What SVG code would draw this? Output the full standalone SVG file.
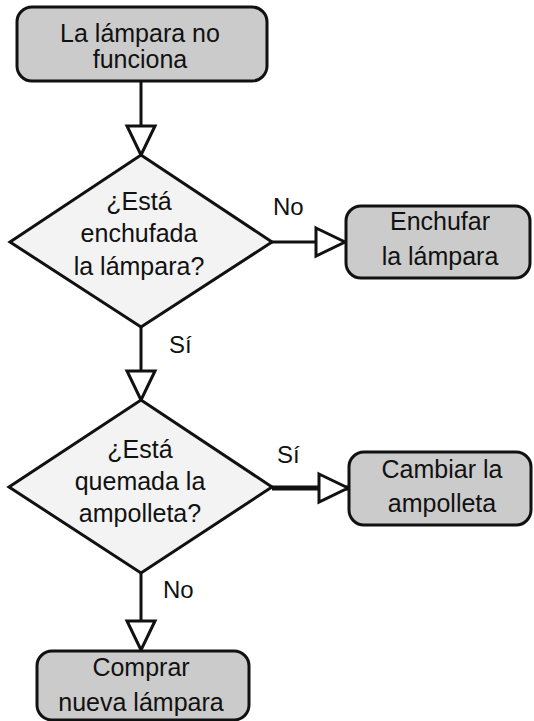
<svg xmlns="http://www.w3.org/2000/svg" width="534" height="721" viewBox="0 0 534 721">
<style>
.box{fill:#cbcbcb;stroke:#111;stroke-width:3}
.dia{fill:#f3f3f3;stroke:#111;stroke-width:3;stroke-linejoin:miter}
.t{font-family:"Liberation Sans",Arial,sans-serif;font-size:25px;fill:#111;text-anchor:middle}
.lbl{font-family:"Liberation Sans",Arial,sans-serif;font-size:24px;fill:#111}
.c{fill:none;stroke:#111;stroke-width:3;marker-end:url(#tri)}
.thick{stroke-width:5}
</style>
<defs>
<marker id="tri" viewBox="0 0 34 32" refX="31" refY="16" markerWidth="34" markerHeight="32" markerUnits="userSpaceOnUse" orient="auto" overflow="visible">
<path d="M2,2 L31,16 L2,30 Z" fill="#fff" stroke="#111" stroke-width="3" stroke-linejoin="miter"/>
</marker>
</defs>
<rect width="534" height="721" fill="#fff"/>
<g id="connectors">
<line class="c" x1="141" y1="82" x2="141" y2="155"/>
<line class="c" x1="272" y1="242" x2="345" y2="242"/>
<line class="c" x1="141" y1="327" x2="141" y2="400"/>
<line class="c thick" x1="272" y1="488" x2="348" y2="488"/>
<line class="c" x1="141" y1="573" x2="141" y2="650"/>
<text class="lbl" x="273" y="215">No</text>
<text class="lbl" x="169" y="353">Sí</text>
<text class="lbl" x="277" y="463">Sí</text>
<text class="lbl" x="163" y="598">No</text>
</g>
<g id="start">
<rect class="box" x="17" y="7" width="250" height="74" rx="15"/>
<text class="t" x="140" y="42">La lámpara no</text>
<text class="t" x="140" y="68">funciona</text>
</g>
<g id="q1">
<polygon class="dia" points="141,155 272,242 141,327 10,242"/>
<text class="t" x="139" y="210">¿Está</text>
<text class="t" x="139" y="242">enchufada</text>
<text class="t" x="139" y="275">la lámpara?</text>
</g>
<g id="plug">
<rect class="box" x="346" y="206" width="184" height="72" rx="15"/>
<text class="t" x="440" y="230">Enchufar</text>
<text class="t" x="440" y="265">la lámpara</text>
</g>
<g id="q2">
<polygon class="dia" points="141,400 272,487 141,573 9,487"/>
<text class="t" x="140" y="458">¿Está</text>
<text class="t" x="140" y="490">quemada la</text>
<text class="t" x="140" y="522">ampolleta?</text>
</g>
<g id="change">
<rect class="box" x="349" y="452" width="182" height="73" rx="15"/>
<text class="t" x="442" y="478">Cambiar la</text>
<text class="t" x="442" y="512">ampolleta</text>
</g>
<g id="buy">
<rect class="box" x="37" y="651" width="212" height="69" rx="15"/>
<text class="t" x="141" y="676">Comprar</text>
<text class="t" x="141" y="711">nueva lámpara</text>
</g>
</svg>
